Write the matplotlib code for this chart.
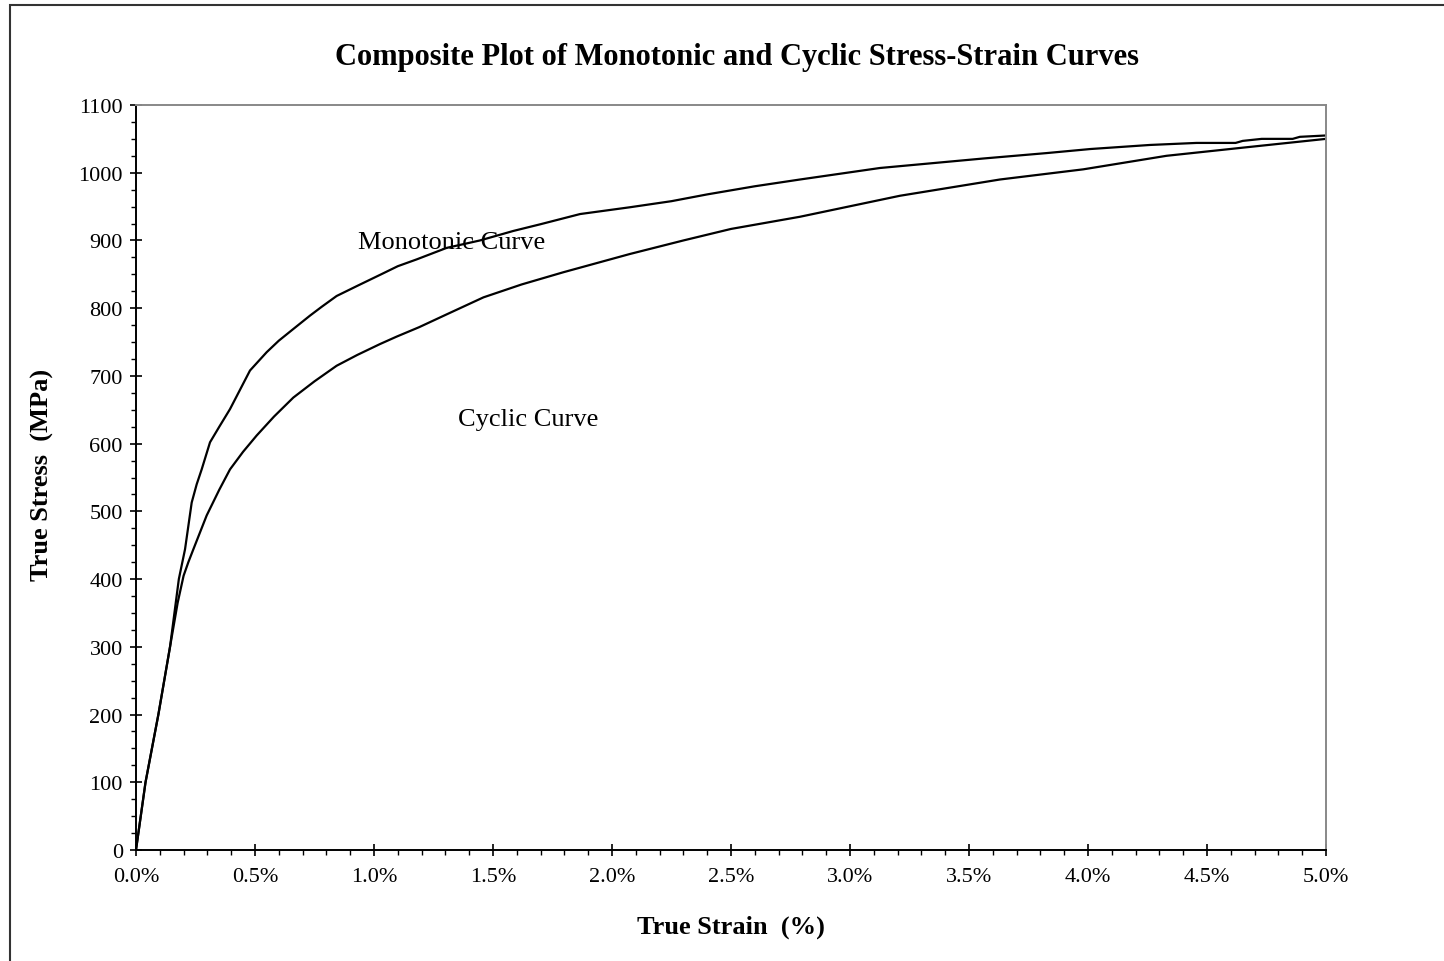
import matplotlib
matplotlib.use("Agg")
import matplotlib.pyplot as plt
from matplotlib.ticker import MultipleLocator, FuncFormatter
from matplotlib.patches import Rectangle

plt.rcParams['font.family'] = ['Liberation Serif', 'DejaVu Serif']

# Monotonic curve (strain %, stress MPa)
mono_strain = [0.0, 0.04, 0.094, 0.143, 0.18, 0.206, 0.234, 0.255, 0.276, 0.311, 0.35, 0.395, 0.479,
               0.549, 0.60, 0.66, 0.731, 0.78, 0.843, 0.93, 1.03, 1.1, 1.179, 1.305, 1.445, 1.585,
               1.7, 1.866, 2.075, 2.25, 2.4, 2.6, 2.79, 3.126, 3.56, 3.826, 4.01, 4.26, 4.456,
               4.62, 4.65, 4.73, 4.86, 4.89, 5.0]
mono_stress = [0, 100, 200, 300, 400, 444, 513, 540, 562, 602, 625, 651, 708,
               735, 752, 769, 789, 802, 818, 833, 850, 862, 872, 889, 900, 914,
               924, 939, 949, 958, 968, 980, 990, 1007, 1021, 1029, 1035, 1041, 1044,
               1044, 1047, 1050, 1050, 1053, 1055]

# Cyclic curve (strain %, stress MPa)
cyc_strain = [0.0, 0.04, 0.094, 0.143, 0.175, 0.2, 0.22, 0.241, 0.297, 0.35, 0.395, 0.45, 0.507,
              0.58, 0.661, 0.75, 0.843, 0.93, 1.025, 1.095, 1.19, 1.3, 1.46, 1.62, 1.795, 2.075,
              2.3, 2.5, 2.79, 3.21, 3.63, 3.98, 4.33, 4.65, 5.0]
cyc_stress = [0, 100, 200, 300, 365, 405, 425, 444, 494, 532, 562, 588, 612,
              640, 668, 692, 715, 731, 747, 758, 772, 790, 816, 835, 853, 880,
              900, 917, 935, 966, 990, 1005, 1025, 1037, 1050]

title = "Composite Plot of Monotonic and Cyclic Stress-Strain Curves"
xlabel = "True Strain  (%)"
ylabel = "True Stress  (MPa)"

W, H = 1444, 962
fig = plt.figure(figsize=(W/100, H/100), dpi=100)
fig.patch.set_facecolor('white')
ax = fig.add_axes([136/W, 1-851/H, (1326-136)/W, (851-106)/H])

ax.plot(mono_strain, mono_stress, color='black', lw=1.6)
ax.plot(cyc_strain, cyc_stress, color='black', lw=1.6)

ax.set_xlim(0, 5)
ax.set_ylim(0, 1100)
ax.xaxis.set_major_locator(MultipleLocator(0.5))
ax.xaxis.set_minor_locator(MultipleLocator(0.1))
ax.yaxis.set_major_locator(MultipleLocator(100))
ax.yaxis.set_minor_locator(MultipleLocator(25))
ax.xaxis.set_major_formatter(FuncFormatter(lambda v, p: f"{v:.1f}%"))
ax.yaxis.set_major_formatter(FuncFormatter(lambda v, p: f"{int(round(v))}"))

ax.tick_params(which='major', direction='inout', length=9, width=1.2, labelsize=16, pad=5)
ax.tick_params(which='minor', direction='out', length=3.5, width=1.0)
ax.tick_params(axis='x', which='major', pad=8)

for s in ['left', 'bottom']:
    ax.spines[s].set_color('black')
    ax.spines[s].set_linewidth(1.4)
for s in ['top', 'right']:
    ax.spines[s].set_color('#888888')
    ax.spines[s].set_linewidth(1.4)

ax.text(0.933, 889, "Monotonic Curve", fontsize=19, va='baseline', ha='left')
ax.text(1.353, 627, "Cyclic Curve", fontsize=19, va='baseline', ha='left')

fig.text(737/W, 1-57/H, title, fontsize=22, fontweight='bold', ha='center', va='center')
fig.text(731/W, 1-927/H, xlabel, fontsize=19, fontweight='bold', ha='center', va='center')
fig.text(42/W, 1-475/H, ylabel, fontsize=19, fontweight='bold', ha='center', va='center', rotation=90)

fig.patches.append(Rectangle((10/W, -0.1), 1.2, 1 - 6/H + 0.1, transform=fig.transFigure,
                             fill=False, edgecolor='#333333', linewidth=1.5))

fig.savefig("out.png", dpi=100, facecolor='white')
